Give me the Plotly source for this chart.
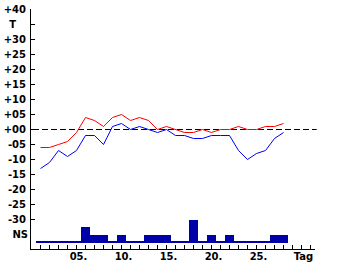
import plotly.graph_objects as go

days = list(range(1, 29))
t_max = [-6, -6, -5, -4, -1, 4, 3, 1, 4, 5, 3, 4, 3, 0, 1, 0, -1, -1, 0, -1, 0, 0, 1, 0, 0, 1, 1, 2]
t_min = [-13, -11, -7, -9, -7, -2, -2, -5, 1, 2, 0, 1, 0, -1, 0, -2, -2, -3, -3, -2, -2, -2, -7, -10, -8, -7, -3, -1]
ns = [0, 0, 0, 0, 0, 2, 1, 1, 0, 1, 0, 0, 1, 1, 1, 0, 0, 3, 0, 1, 0, 1, 0, 0, 0, 0, 1, 1]

y_tickvals = [40, 35, 30, 25, 20, 15, 10, 5, 0, -5, -10, -15, -20, -25, -30]
y_ticktext = ["+40", "T\u2003", "+30", "+25", "+20", "+15", "+10", "+05", "+00",
              "-05", "-10", "-15", "-20", "-25", "-30"]
x_tickvals = [5, 10, 15, 20, 25, 30]
x_ticktext = ["05.", "10.", "15.", "20.", "25.", "Tag"]

NS_BASE = -37.5
NS_STEP = 2.5
BAR_COLOR = "#0000A8"

font = dict(family="DejaVu Sans", size=10, color="black", weight="bold")

fig = go.Figure()

fig.add_trace(go.Bar(
    x=days, y=[v * NS_STEP for v in ns], base=NS_BASE, width=1,
    marker=dict(color=BAR_COLOR, line=dict(width=0)), hoverinfo="skip",
))
fig.add_trace(go.Scatter(
    x=[days[0] - 0.5, days[-1] + 0.5], y=[NS_BASE, NS_BASE], mode="lines",
    line=dict(color=BAR_COLOR, width=2), yaxis="y2", hoverinfo="skip",
))
fig.add_trace(go.Scatter(x=days, y=t_max, mode="lines", line=dict(color="#FF0000", width=1)))
fig.add_trace(go.Scatter(x=days, y=t_min, mode="lines", line=dict(color="#0000FF", width=1)))

fig.add_shape(type="line", xref="paper", yref="y", x0=0.007, x1=1.006, y0=0, y1=0,
              line=dict(color="black", width=1, dash="6px,3px"), layer="below")

Y_RANGE = [-39.8333, 40.1667]

fig.update_layout(
    width=340, height=265,
    margin=dict(l=31, r=25, t=9, b=16, autoexpand=False),
    paper_bgcolor="white", plot_bgcolor="white",
    showlegend=False, bargap=0,
    xaxis=dict(
        range=[-0.0556, 31.5], showline=True, linecolor="black", linewidth=1,
        ticks="inside", ticklen=4, tickcolor="black",
        tickvals=x_tickvals, ticktext=x_ticktext, tickfont=font,
        ticklabelshift=2, ticklabelstandoff=-2,
        minor=dict(tickvals=list(range(1, 32)), ticks="inside", ticklen=4, tickcolor="black"),
        showgrid=False, zeroline=False, automargin=False,
    ),
    yaxis=dict(
        range=Y_RANGE, showline=True, linecolor="black", linewidth=1,
        ticks="inside", ticklen=4, tickcolor="black",
        tickvals=y_tickvals, ticktext=y_ticktext, tickfont=font,
        ticklabelstandoff=2,
        showgrid=False, zeroline=False, automargin=False,
    ),
    yaxis2=dict(
        range=Y_RANGE, overlaying="y", side="left", showline=False,
        ticks="", tickvals=[-35], ticktext=["NS"], tickfont=font,
        ticklabelstandoff=2,
        showgrid=False, zeroline=False, automargin=False,
    ),
)

fig.write_html("out.html")
